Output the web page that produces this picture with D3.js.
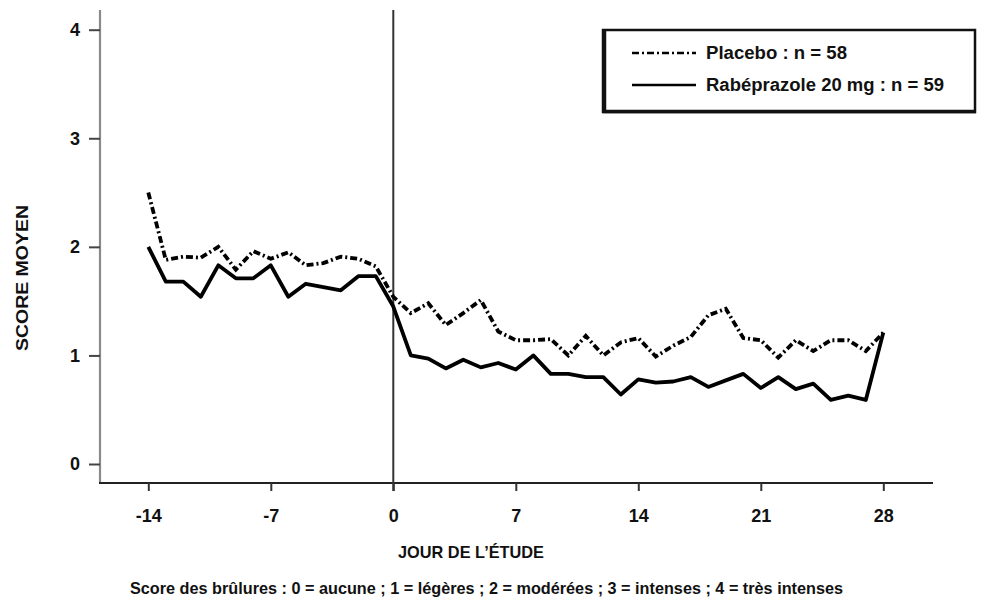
<html>
<head>
<meta charset="utf-8">
<title>Score moyen des brûlures</title>
<script src="https://d3js.org/d3.v7.min.js"></script>
<style>
  body { margin: 0; padding: 0; background: #fff; }
  text { font-family: Arial, "Liberation Sans", sans-serif; font-weight: bold; fill: #111; }
  .narrow { font-family: "Liberation Sans Narrow", "Arial Narrow", Arial, sans-serif; }
</style>
</head>
<body>
<div id="chart"></div>
<script>

// jours de l'étude
var days = [-14, -13, -12, -11, -10, -9, -8, -7, -6, -5, -4, -3, -2, -1, 0,
            1, 2, 3, 4, 5, 6, 7, 8, 9, 10, 11, 12, 13, 14,
            15, 16, 17, 18, 19, 20, 21, 22, 23, 24, 25, 26, 27, 28];

var placebo = [2.50, 1.88, 1.91, 1.90, 2.00, 1.79, 1.96, 1.89, 1.95, 1.83, 1.85, 1.91, 1.89, 1.82, 1.54,
               1.39, 1.48, 1.28, 1.39, 1.51, 1.22, 1.14, 1.14, 1.15, 1.00, 1.18, 1.00, 1.12, 1.16,
               0.99, 1.09, 1.17, 1.37, 1.43, 1.16, 1.14, 0.98, 1.14, 1.04, 1.14, 1.14, 1.04, 1.21];

var rabeprazole = [2.00, 1.68, 1.68, 1.54, 1.83, 1.71, 1.71, 1.83, 1.54, 1.66, 1.63, 1.60, 1.73, 1.73, 1.45,
                   1.00, 0.97, 0.88, 0.96, 0.89, 0.93, 0.87, 1.00, 0.83, 0.83, 0.80, 0.80, 0.64, 0.78,
                   0.75, 0.76, 0.80, 0.71, 0.77, 0.83, 0.70, 0.80, 0.69, 0.74, 0.59, 0.63, 0.59, 1.21];

var xTicks = [-14, -7, 0, 7, 14, 21, 28];
var yTicks = [0, 1, 2, 3, 4];

var seriesNames = ["Placebo : n = 58", "Rabéprazole 20 mg : n = 59"];

var W = 987, H = 601;

var svg = d3.select("#chart").append("svg")
  .attr("width", W)
  .attr("height", H);

var x = d3.scaleLinear().domain([-14, 28]).range([148.3, 883.3]);
var y = d3.scaleLinear().domain([0, 4]).range([464, 29.7]);

var axisX0 = 100, axisY0 = 483;

// axe Y (gris)
svg.append("line")
  .attr("x1", axisX0).attr("x2", axisX0)
  .attr("y1", 10).attr("y2", axisY0)
  .attr("stroke", "#8a8a8a").attr("stroke-width", 2.2);

var yAxis = svg.append("g")
  .attr("transform", "translate(" + axisX0 + ",0)")
  .call(d3.axisLeft(y).tickValues(yTicks).tickSize(11).tickPadding(9).tickFormat(function(d) { return String(d); }));
yAxis.select(".domain").remove();
yAxis.selectAll(".tick line").attr("stroke", "#444").attr("stroke-width", 2);
yAxis.selectAll(".tick text").attr("font-size", 18).attr("fill", "#111")
  .style("font-family", "Arial, 'Liberation Sans', sans-serif").style("font-weight", "bold");

// axe X
svg.append("line")
  .attr("x1", axisX0 - 1).attr("x2", 933)
  .attr("y1", axisY0).attr("y2", axisY0)
  .attr("stroke", "#222").attr("stroke-width", 2);

var xAxis = svg.append("g")
  .attr("transform", "translate(0," + axisY0 + ")")
  .call(d3.axisBottom(x).tickValues(xTicks).tickSize(8).tickPadding(18).tickFormat(function(d) { return String(d); }));
xAxis.select(".domain").remove();
xAxis.selectAll(".tick line").attr("stroke", "#333").attr("stroke-width", 2);
xAxis.selectAll(".tick text").attr("font-size", 18).attr("fill", "#111")
  .style("font-family", "Arial, 'Liberation Sans', sans-serif").style("font-weight", "bold");

// ligne verticale au jour 0
svg.append("line")
  .attr("x1", x(0)).attr("x2", x(0))
  .attr("y1", 10).attr("y2", axisY0 + 8)
  .attr("stroke", "#333").attr("stroke-width", 2);

// courbes
var line = d3.line()
  .x(function(d) { return x(d.day); })
  .y(function(d) { return y(d.v); });

var placeboData = days.map(function(d, i) { return {day: d, v: placebo[i]}; });
var rabeData = days.map(function(d, i) { return {day: d, v: rabeprazole[i]}; });

svg.append("path")
  .datum(rabeData)
  .attr("d", line)
  .attr("fill", "none")
  .attr("stroke", "#000")
  .attr("stroke-width", 3.8)
  .attr("stroke-linejoin", "round");

svg.append("path")
  .datum(placeboData)
  .attr("d", line)
  .attr("fill", "none")
  .attr("stroke", "#000")
  .attr("stroke-width", 3.8)
  .attr("stroke-dasharray", "7,3,2,3");

// légende
var lg = svg.append("g");
lg.append("rect")
  .attr("x", 603).attr("y", 30)
  .attr("width", 372).attr("height", 82)
  .attr("fill", "#fff")
  .attr("stroke", "#111").attr("stroke-width", 2.5);
lg.append("line")
  .attr("x1", 604.5).attr("x2", 604.5).attr("y1", 30).attr("y2", 113)
  .attr("stroke", "#111").attr("stroke-width", 3.5);
lg.append("line")
  .attr("x1", 603).attr("x2", 976).attr("y1", 111.5).attr("y2", 111.5)
  .attr("stroke", "#111").attr("stroke-width", 3.5);

var legendY = [53, 85];
var legendLen = [141, 238];
var dashes = ["7,3,2,3", null];
seriesNames.forEach(function(name, i) {
  lg.append("line")
    .attr("x1", 632).attr("x2", 696)
    .attr("y1", legendY[i]).attr("y2", legendY[i])
    .attr("stroke", "#000").attr("stroke-width", 2.5)
    .attr("stroke-dasharray", dashes[i]);
  lg.append("text")
    .attr("x", 706).attr("y", legendY[i] + 6)
    .attr("font-size", 18)
    .attr("textLength", legendLen[i])
    .attr("lengthAdjust", "spacingAndGlyphs")
    .text(name);
});

// titres
svg.append("text")
  .attr("transform", "translate(28,278) rotate(-90)")
  .attr("text-anchor", "middle")
  .attr("font-size", 17)
  .attr("textLength", 146)
  .attr("lengthAdjust", "spacingAndGlyphs")
  .text("SCORE MOYEN");

svg.append("text")
  .attr("class", "narrow")
  .attr("x", 471).attr("y", 558)
  .attr("text-anchor", "middle")
  .attr("font-size", 17)
  .attr("textLength", 146)
  .attr("lengthAdjust", "spacingAndGlyphs")
  .text("JOUR DE L\u2019ÉTUDE");

svg.append("text")
  .attr("class", "narrow")
  .attr("x", 130).attr("y", 594)
  .attr("font-size", 17)
  .attr("textLength", 713)
  .attr("lengthAdjust", "spacingAndGlyphs")
  .text("Score des brûlures : 0 = aucune ; 1 = légères ; 2 = modérées ; 3 = intenses ; 4 = très intenses");

</script>
</body>
</html>
